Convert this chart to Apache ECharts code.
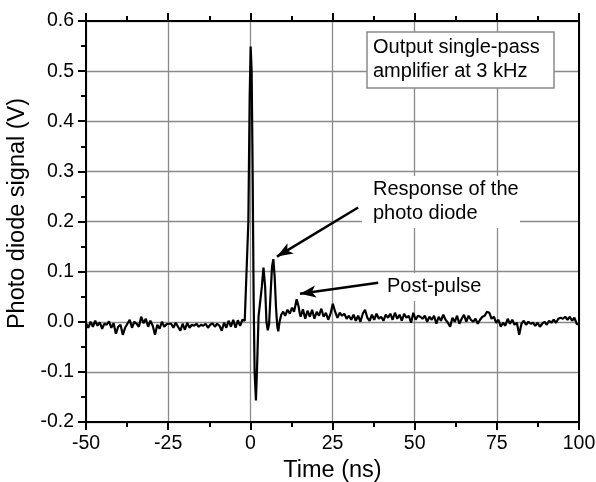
<!DOCTYPE html>
<html>
<head>
<meta charset="utf-8">
<script src="https://cdn.jsdelivr.net/npm/echarts@6/dist/echarts.min.js"></script>
<style>html,body{margin:0;padding:0;background:#fff}#c{width:596px;height:482px}</style>
</head>
<body>
<div id="c"></div>
<script>
// ---- data ----
var xTicks = [-50, -25, 0, 25, 50, 75, 100];
var yTicks = [-0.2, -0.1, 0.0, 0.1, 0.2, 0.3, 0.4, 0.5, 0.6];
// pre-trigger baseline: start -50 ns, 0.7 ns sampling
var preStart = -50, preStep = 0.7;
var preValues = [-0.003,-0.012,0.000,-0.010,0.002,-0.008,-0.001,-0.014,-0.004,-0.006,
  0.001,-0.012,-0.003,-0.024,-0.010,-0.006,-0.026,-0.012,-0.004,0.004,
  -0.012,0.000,-0.004,-0.010,0.010,-0.003,0.006,-0.010,0.002,-0.008,
  -0.026,-0.006,-0.014,0.000,-0.010,-0.005,-0.004,-0.004,-0.012,-0.002,
  -0.010,-0.018,-0.004,-0.016,-0.002,-0.012,-0.006,-0.008,-0.004,-0.010,
  -0.006,-0.008,-0.004,-0.012,-0.006,-0.003,-0.010,-0.004,-0.008,-0.018,
  -0.002,-0.012,0.002,-0.010,0.004,-0.012,0.003,-0.008,0.004,0.002];
// main pulse and photodiode ringing: [time ns, signal V]
var pulse = [[-1.1,0.004],[-0.6,0.2],[-0.2,0.45],[0.1,0.549],[0.4,0.5],[0.7,0.3],[1.0,0.05],
  [1.3,-0.1],[1.7,-0.157],[2.1,-0.08],[2.5,0.01],[2.8,0.028],[3.1,0.03],[3.5,0.07],[4.0,0.108],
  [4.5,0.07],[4.9,0.0],[5.3,-0.017],[5.7,-0.005],[6.2,0.06],[6.6,0.11],[7.0,0.125],[7.4,0.09],
  [7.8,0.03],[8.2,-0.01],[8.5,-0.019],[8.9,0.0],[9.4,0.014],[10.0,0.02],[10.6,0.012],[11.3,0.024],
  [12.0,0.016],[12.7,0.028],[13.3,0.02],[14.1,0.045],[14.7,0.03],[15.0,0.018]];
// tail: start 15.3 ns, 0.7 ns sampling
var tailStart = 15.3, tailStep = 0.7;
var tailValues = [0.010,0.025,0.006,0.022,0.010,0.024,0.006,0.020,0.012,0.026,
  0.010,0.018,0.004,0.016,0.036,0.020,0.008,0.018,0.012,0.016,
  0.006,0.012,0.004,0.014,0.002,0.012,0.000,0.016,0.024,0.008,
  0.002,0.014,0.004,0.016,0.006,0.010,0.002,0.014,0.008,0.016,
  0.004,0.018,0.006,0.014,0.002,0.016,0.008,0.012,-0.002,0.018,
  0.004,0.012,0.010,0.006,0.012,0.000,0.010,0.004,0.012,-0.004,
  0.010,0.002,0.014,0.004,-0.002,-0.010,0.008,0.000,0.012,-0.004,
  0.006,0.014,0.000,0.012,0.004,0.000,0.006,-0.004,0.004,0.010,
  0.012,0.020,0.018,0.006,0.010,-0.002,0.004,-0.010,-0.002,-0.008,
  0.006,-0.004,0.004,-0.006,-0.002,-0.026,-0.004,0.002,-0.006,0.000,
  -0.004,-0.002,-0.008,-0.002,-0.010,-0.004,0.000,-0.006,0.002,-0.002,
  0.004,-0.002,0.006,0.008,0.006,0.010,0.004,0.010,0.002,0.008,
  -0.004,-0.006];
// annotation arrows (data coordinates): [from, to]
var arrowResponse = [[32.8, 0.228], [8.1, 0.130]];
var arrowPostPulse = [[38.9, 0.078], [15.1, 0.056]];

// ---- build series ----
var signal = [];
preValues.forEach(function (v, i) { signal.push([+(preStart + i * preStep).toFixed(2), v]); });
pulse.forEach(function (p) { signal.push(p); });
tailValues.forEach(function (v, i) { signal.push([+(tailStart + i * tailStep).toFixed(2), v]); });

var FONT = 'Liberation Sans, Arial, sans-serif';
var chart = echarts.init(document.getElementById('c'), null, {renderer: 'canvas'});
var xCommon = {
  type: 'value', min: xTicks[0], max: xTicks[xTicks.length - 1], interval: 25,
  axisLine: {show: true, onZero: false, lineStyle: {color: '#000', width: 2}},
  axisTick: {show: true, inside: false, length: 8, lineStyle: {color: '#000', width: 2}},
  minorTick: {show: true, splitNumber: 2, length: 5, lineStyle: {color: '#000', width: 2}}
};
chart.setOption({
  animation: false,
  backgroundColor: '#fff',
  grid: {left: 86, right: 17, top: 21, bottom: 60, containLabel: false, outerBoundsMode: 'none'},
  xAxis: [
    Object.assign({}, xCommon, {
      position: 'bottom',
      name: 'Time (ns)', nameLocation: 'middle', nameGap: 35,
      nameTextStyle: {fontFamily: FONT, fontSize: 23.5, color: '#000'},
      axisLabel: {show: true, margin: 12, fontFamily: FONT, fontSize: 19.5, color: '#000'},
      splitLine: {show: true, lineStyle: {color: '#8a8a8a', width: 1.3}}
    }),
    Object.assign({}, xCommon, {
      position: 'top', axisLabel: {show: false}, splitLine: {show: false}
    })
  ],
  yAxis: [
    {
      type: 'value', min: yTicks[0], max: yTicks[yTicks.length - 1], interval: 0.1,
      position: 'left',
      name: 'Photo diode signal (V)', nameLocation: 'middle', nameGap: 47,
      nameTextStyle: {fontFamily: FONT, fontSize: 23.5, color: '#000', padding: [0, 0, 0, 16]},
      axisLine: {show: true, onZero: false, lineStyle: {color: '#000', width: 2}},
      axisTick: {show: true, inside: false, length: 8, lineStyle: {color: '#000', width: 2}},
      minorTick: {show: true, splitNumber: 2, length: 5, lineStyle: {color: '#000', width: 2}},
      axisLabel: {margin: 12, fontFamily: FONT, fontSize: 19.5, color: '#000',
        formatter: function (v) { return v.toFixed(1); }},
      splitLine: {show: true, lineStyle: {color: '#8a8a8a', width: 1.3}}
    },
    {
      type: 'value', min: yTicks[0], max: yTicks[yTicks.length - 1], interval: 0.1,
      position: 'right',
      axisLine: {show: true, onZero: false, lineStyle: {color: '#000', width: 2}},
      axisTick: {show: false}, axisLabel: {show: false}, splitLine: {show: false}
    }
  ],
  series: [{
    type: 'line', data: signal, showSymbol: false, symbol: 'none',
    lineStyle: {color: '#000', width: 2.2}, z: 3,
    markLine: {
      silent: true, symbol: ['none', 'arrow'], symbolSize: [9, 16],
      label: {show: false},
      lineStyle: {color: '#000', width: 2.5, type: 'solid'},
      data: [
        [{coord: arrowResponse[0]}, {coord: arrowResponse[1]}],
        [{coord: arrowPostPulse[0]}, {coord: arrowPostPulse[1]}]
      ]
    }
  }],
  graphic: [
    {type: 'rect', z: 50, shape: {x: 367, y: 32, width: 187, height: 56},
      style: {fill: '#fff', stroke: '#8a8a8a', lineWidth: 1.5}},
    {type: 'text', z: 51, x: 373, y: 36,
      style: {text: 'Output single-pass\namplifier at 3 kHz', font: '20px ' + FONT, fill: '#000', lineHeight: 23.5}},
    {type: 'rect', z: 50, shape: {x: 362, y: 176, width: 158, height: 52},
      style: {fill: '#fff'}},
    {type: 'text', z: 51, x: 373, y: 178,
      style: {text: 'Response of the\nphoto diode', font: '20px ' + FONT, fill: '#000', lineHeight: 23.5}},
    {type: 'rect', z: 50, shape: {x: 381, y: 273, width: 108, height: 28},
      style: {fill: '#fff'}},
    {type: 'text', z: 51, x: 387, y: 275,
      style: {text: 'Post-pulse', font: '20px ' + FONT, fill: '#000', lineHeight: 23.5}}
  ]
});
</script>
</body>
</html>
